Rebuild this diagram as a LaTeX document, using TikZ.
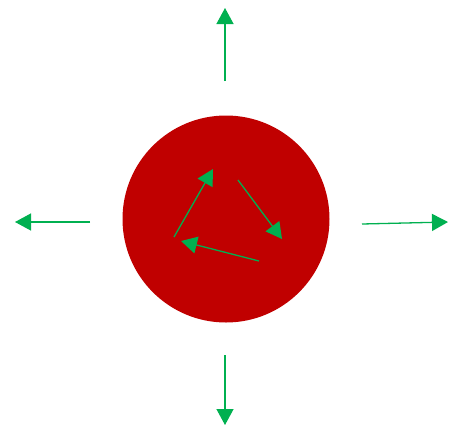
\documentclass[tikz,border=0pt]{standalone}
\usepackage{xcolor}
\usepackage{tikz}
\usetikzlibrary{arrows.meta}
\definecolor{ballred}{HTML}{C00000}
\definecolor{flowgreen}{HTML}{00B050}

\begin{document}
\begin{tikzpicture}[
  x=1pt, y=-1pt,
  ball/.style={circle, fill=ballred, draw=none, minimum size=207pt, inner sep=0pt},
  arr/.style={-{Triangle[length=16pt,width=17pt]}, line width=1.3pt, draw=flowgreen}
]
\useasboundingbox (0,0) rectangle (452,429);
\node[ball] (ball) at (226,219) {};
% outward arrows
\coordinate (ntail) at (225,81);  \coordinate (nhead) at (225,8);
\coordinate (wtail) at (90,222);  \coordinate (whead) at (15,222);
\coordinate (etail) at (362,224); \coordinate (ehead) at (448,222);
\coordinate (stail) at (225,355); \coordinate (shead) at (225,425);
\draw[arr] (ntail) -- (nhead); \draw[arr] (wtail) -- (whead);
\draw[arr] (etail) -- (ehead); \draw[arr] (stail) -- (shead);
% circulation inside the ball
\coordinate (c1) at (174,237); \coordinate (c2) at (213,169);
\coordinate (c3) at (238,180); \coordinate (c4) at (282,239);
\coordinate (c5) at (259,261); \coordinate (c6) at (181,241);
\draw[arr] (c1) -- (c2); \draw[arr] (c3) -- (c4); \draw[arr] (c5) -- (c6);
\end{tikzpicture}
\end{document}
